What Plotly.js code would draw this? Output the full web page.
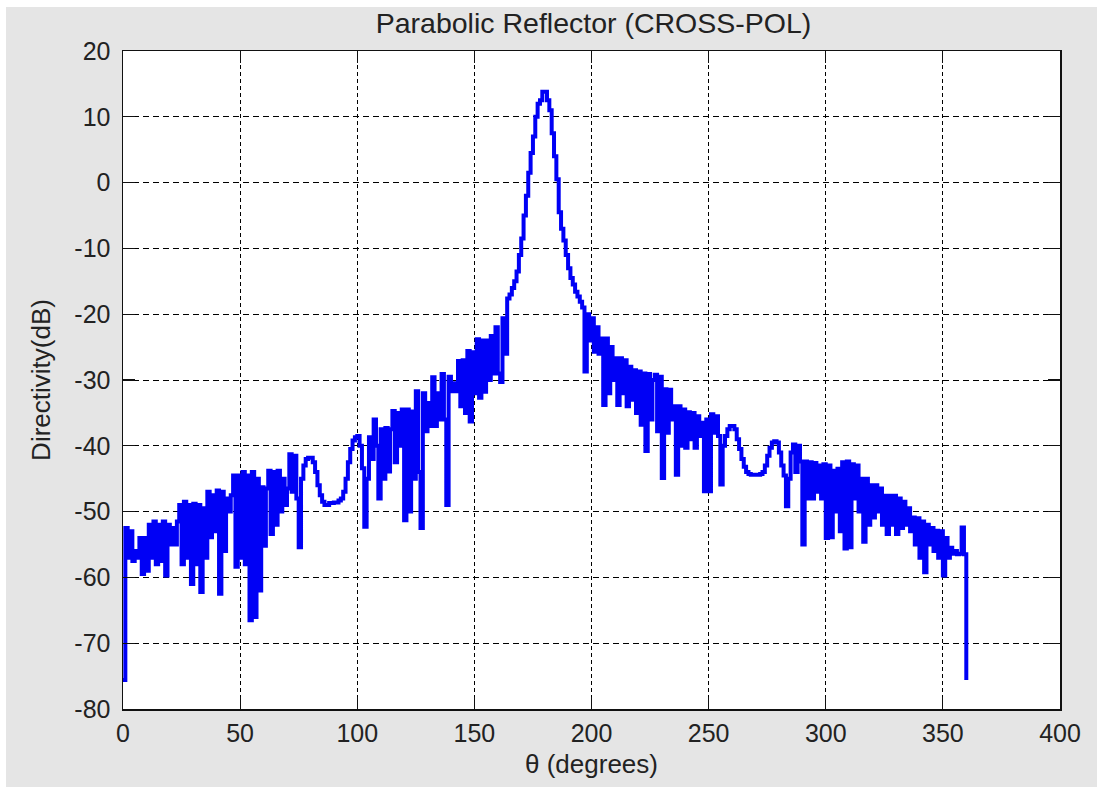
<!DOCTYPE html>
<html>
<head>
<meta charset="utf-8">
<script src="https://cdn.plot.ly/plotly-3.0.1.min.js"></script>
<style>
  html, body { margin: 0; padding: 0; background: #ffffff; }
  #chart { position: absolute; left: 6px; top: 7px; width: 1091px; height: 780px; }
</style>
</head>
<body>
<div id="chart"></div>
<script>
// Sampling grid: one sample per degree, 0..360
const thetaStart = 0;
const thetaStep = 1;

// Directivity (dB), one value per degree
const directivity = [
  -75.6, -52.5, -57.0, -53.0, -57.5, -56.0, -57.0, -54.0, -59.5, -54.0,   // 0-9
  -59.0, -52.0, -57.0, -51.5, -58.0, -52.0, -57.5, -51.5, -59.7, -52.0,   // 10-19
  -55.0, -52.5, -55.0, -51.5, -49.0, -58.0, -48.5, -57.0, -49.0, -61.0,   // 20-29
  -48.8, -58.0, -49.0, -62.2, -49.5, -57.0, -47.0, -53.9, -47.5, -53.0,   // 30-39
  -46.8, -62.5, -47.0, -56.0, -48.0, -50.0, -47.5, -44.5, -58.4, -44.5,   // 40-49
  -57.0, -44.0, -58.0, -44.5, -66.5, -44.0, -66.0, -45.0, -62.0, -46.3,   // 50-59
  -55.2, -46.5, -43.8, -53.4, -44.0, -52.0, -43.8, -50.0, -45.0, -49.0,   // 60-69
  -46.5, -41.3, -47.0, -41.5, -48.0, -55.4, -45.0, -43.0, -42.0, -41.8,   // 70-79
  -41.8, -42.5, -44.0, -46.0, -47.5, -48.5, -49.0, -49.0, -48.7, -48.7,   // 80-89
  -48.6, -48.6, -48.3, -48.0, -47.0, -45.0, -42.5, -40.5, -39.2, -38.7,   // 90-99
  -38.5, -40.0, -43.4, -52.3, -45.0, -38.7, -42.0, -36.0, -40.0, -48.0,   // 100-109
  -37.5, -45.0, -37.3, -43.9, -37.5, -34.7, -42.5, -35.0, -40.0, -34.5,   // 110-119
  -51.3, -34.5, -50.0, -34.8, -45.0, -31.7, -44.0, -52.5, -32.0, -37.8,   // 120-129
  -33.5, -37.0, -29.6, -37.0, -32.0, -36.0, -29.1, -36.0, -49.0, -29.5,   // 130-139
  -31.7, -30.5, -31.7, -27.1, -34.0, -27.0, -35.0, -25.6, -36.3, -25.8,   // 140-149
  -32.0, -23.8, -32.7, -24.0, -31.8, -24.0, -30.0, -23.3, -29.0, -22.0,   // 150-159
  -29.0, -30.3, -20.6, -26.0, -17.6, -17.0, -16.0, -15.0, -13.5, -11.0,   // 160-169
  -8.5, -5.0, -2.0, 1.5, 4.5, 7.0, 10.0, 12.0, 12.5, 13.8,                // 170-179
  13.8, 12.5, 11.0, 7.5, 4.0, 0.5, -4.5, -7.0, -8.8, -11.0,               // 180-189
  -13.0, -14.5, -15.5, -16.6, -17.3, -18.1, -19.0, -28.7, -20.0, -24.0,   // 190-199
  -20.6, -25.7, -22.0, -26.0, -23.7, -33.8, -23.7, -32.0, -25.0, -30.0,   // 200-209
  -26.7, -33.8, -26.7, -32.0, -27.0, -34.0, -28.0, -33.0, -28.5, -35.0,   // 210-219
  -28.7, -36.8, -29.0, -40.8, -29.1, -36.0, -30.0, -29.2, -37.8, -29.5,   // 220-229
  -44.9, -31.4, -38.0, -31.5, -36.0, -34.0, -44.4, -34.0, -40.0, -34.5,   // 230-239
  -40.3, -34.9, -39.0, -35.0, -40.3, -35.5, -38.5, -36.5, -46.9, -36.0,   // 240-249
  -46.9, -35.2, -38.0, -35.5, -38.5, -45.9, -40.0, -38.5, -37.5, -37.0,   // 250-259
  -37.0, -37.5, -39.0, -40.5, -42.0, -43.2, -44.0, -44.3, -44.4, -44.4,   // 260-269
  -44.4, -44.4, -44.3, -44.0, -43.0, -41.5, -40.3, -39.5, -39.3, -39.5,   // 270-279
  -41.0, -43.0, -44.5, -49.2, -45.0, -41.0, -39.8, -44.0, -40.0, -42.4,   // 280-289
  -55.0, -42.4, -48.0, -42.5, -48.0, -42.6, -47.0, -43.0, -48.0, -42.8,   // 290-299
  -54.0, -43.0, -53.9, -43.8, -50.0, -43.5, -53.0, -42.5, -55.6, -42.4,   // 300-309
  -55.4, -42.8, -48.0, -43.0, -50.0, -45.0, -54.6, -45.0, -52.0, -46.0,   // 310-319
  -50.9, -46.0, -50.0, -46.5, -52.0, -47.6, -53.4, -47.6, -52.0, -47.6,   // 320-329
  -53.4, -48.0, -52.5, -48.5, -52.0, -49.5, -53.0, -50.9, -55.0, -51.0,   // 330-339
  -57.0, -51.5, -59.2, -52.0, -55.0, -52.5, -56.0, -52.9, -57.0, -53.0,   // 340-349
  -59.7, -54.0, -57.0, -55.5, -56.4, -56.0, -56.5, -56.4, -52.4, -56.5,   // 350-359
  -75.6                                                                   // 360
];

const theta = directivity.map((_, i) => thetaStart + i * thetaStep);

const xTickVals = [0, 50, 100, 150, 200, 250, 300, 350, 400];
const xTickText = ['0', '50', '100', '150', '200', '250', '300', '350', '400'];
const yTickVals = [20, 10, 0, -10, -20, -30, -40, -50, -60, -70, -80];
const yTickText = ['20', '10', '0', '-10', '-20', '-30', '-40', '-50', '-60', '-70', '-80'];

const chartTitle = 'Parabolic Reflector (CROSS-POL)';
const xLabel = 'θ (degrees)';
const yLabel = 'Directivity(dB)';

const FONT = 'Liberation Sans, Arial, Helvetica, sans-serif';

const trace = {
  x: theta,
  y: directivity,
  type: 'scatter',
  mode: 'lines',
  line: { color: 'rgb(0,0,245)', width: 4, shape: 'hv' },
  hoverinfo: 'x+y'
};

const axisCommon = {
  showline: true,
  linecolor: '#111',
  linewidth: 1.5,
  mirror: 'allticks',
  ticks: 'inside',
  ticklen: 12,
  tickwidth: 1.2,
  tickcolor: '#111',
  showgrid: true,
  gridcolor: '#000',
  gridwidth: 1,
  zeroline: false,
  tickfont: { family: FONT, size: 25, color: '#222' }
};

const layout = {
  width: 1091,
  height: 780,
  paper_bgcolor: '#e5e5e5',
  plot_bgcolor: '#ffffff',
  showlegend: false,
  margin: { l: 117, r: 37, t: 44, b: 78, pad: 0 },
  title: {
    text: chartTitle,
    font: { family: FONT, size: 28.5, color: '#222' },
    x: 0.5385, xref: 'container', xanchor: 'center',
    y: 0.9795, yref: 'container', yanchor: 'middle'
  },
  xaxis: Object.assign({}, axisCommon, {
    range: [0, 400],
    tickvals: xTickVals,
    ticktext: xTickText,
    griddash: '4px,3px',
    ticklabelstandoff: 1,
    title: { text: xLabel, font: { family: FONT, size: 26, color: '#222' }, standoff: 9 }
  }),
  yaxis: Object.assign({}, axisCommon, {
    range: [-80, 20],
    tickvals: yTickVals,
    ticktext: yTickText,
    griddash: '6px,4px',
    ticklabelstandoff: 6,
    title: { text: yLabel, font: { family: FONT, size: 26, color: '#222' }, standoff: 16 }
  })
};

Plotly.newPlot('chart', [trace], layout, { displayModeBar: false, staticPlot: true });
</script>
</body>
</html>
